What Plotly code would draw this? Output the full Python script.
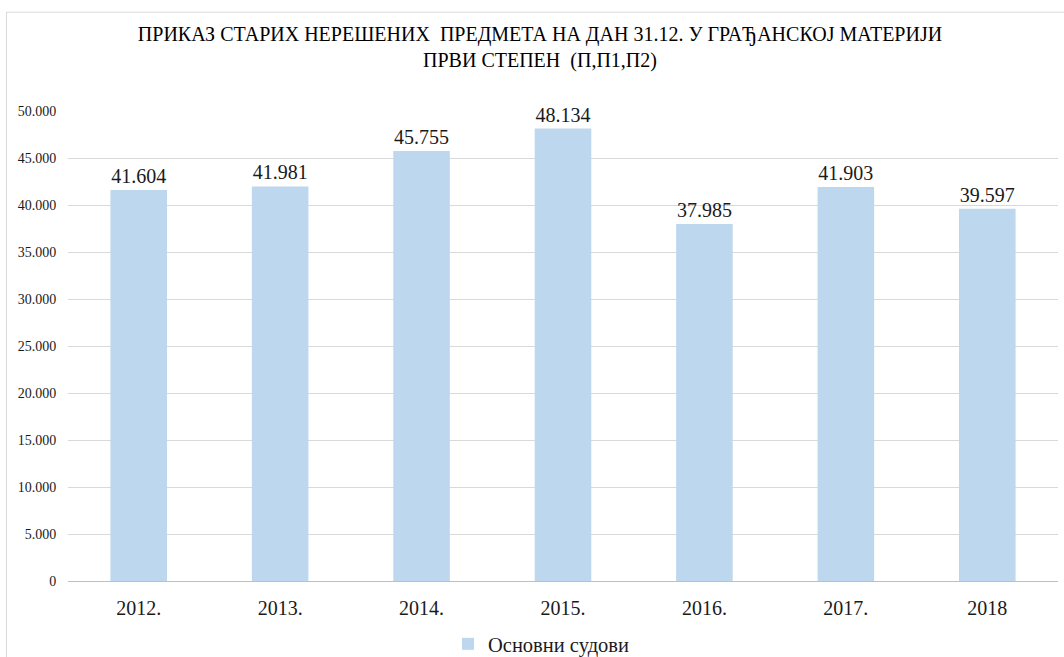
import plotly.graph_objects as go

years = ['2012.', '2013.', '2014.', '2015.', '2016.', '2017.', '2018']
cases = [41604, 41981, 45755, 48134, 37985, 41903, 39597]
y_ticks = [0, 5000, 10000, 15000, 20000, 25000, 30000, 35000, 40000, 45000, 50000]

FONT = 'Liberation Serif'
BAR = '#BDD7EE'
GRID = '#D9D9D9'
TEXT = '#1a1a1a'

fig = go.Figure(go.Bar(
    x=years,
    y=cases,
    name='Основни судови',
    marker=dict(color=BAR, line=dict(width=0)),
    width=0.4,
    texttemplate='%{y:,}',
    textposition='outside',
    textfont=dict(size=20, color=TEXT, family=FONT),
    cliponaxis=False,
))

fig.update_layout(
    width=1064, height=657,
    margin=dict(l=68, r=6, t=111, b=76),
    paper_bgcolor='white',
    plot_bgcolor='white',
    separators=',.',
    font=dict(family=FONT, color=TEXT),
    title=dict(
        text='ПРИКАЗ СТАРИХ НЕРЕШЕНИХ  ПРЕДМЕТА НА ДАН 31.12. У ГРАЂАНСКОЈ МАТЕРИЈИ<br>ПРВИ СТЕПЕН  (П,П1,П2)',
        x=540 / 1064, xanchor='center', xref='container',
        y=1 - 41 / 657, yanchor='middle', yref='container',
        font=dict(size=20, family=FONT, color='#000000'),
    ),
    xaxis=dict(
        showgrid=False,
        showline=False,
        ticks='outside', ticklen=9, tickcolor='rgba(0,0,0,0)',
        tickfont=dict(size=20, family=FONT, color=TEXT),
    ),
    yaxis=dict(
        range=[0, 50000],
        tickvals=y_ticks,
        tickformat=',',
        showgrid=True, gridcolor=GRID, gridwidth=1,
        zeroline=True, zerolinecolor='#BFBFBF', zerolinewidth=1,
        ticks='outside', ticklen=8, tickcolor='rgba(0,0,0,0)',
        tickfont=dict(size=14, family=FONT, color=TEXT),
    ),
    showlegend=True,
    legend=dict(
        orientation='h',
        xref='container', x=448 / 1064, xanchor='left',
        yref='container', y=1 - 644 / 657, yanchor='middle',
        font=dict(size=20.5, family=FONT, color=TEXT),
    ),
    # chart frame: only the left and top edges fall inside the window
    shapes=[dict(
        type='path', xref='paper', yref='paper',
        path='M -0.0621,-0.3 L -0.0621,1.2102 L 1.2,1.2102',
        line=dict(color=GRID, width=1),
        layer='below',
    )],
)

# drop the default page margin and scrollbars so the figure sits at the window corner
fig.write_html('out.html', config={'displayModeBar': False},
               post_script="document.body.style.margin='0';document.body.style.overflow='hidden';")
